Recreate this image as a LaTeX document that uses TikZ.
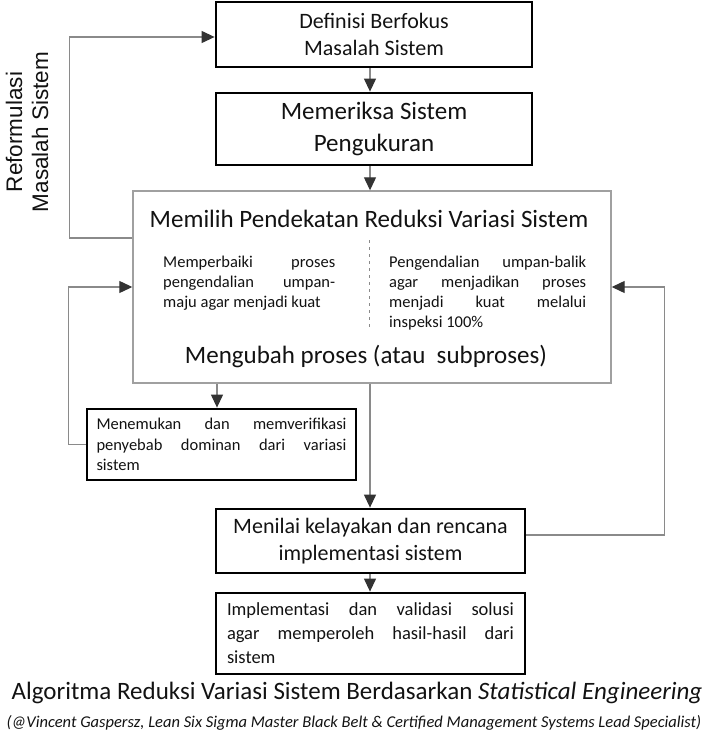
\documentclass[tikz,border=0pt]{standalone}
\usepackage{fontspec}
\setmainfont{Carlito}
\newfontfamily\sidefont{Liberation Sans}
\usetikzlibrary{positioning, arrows.meta}
\definecolor{linegray}{HTML}{8A8A8A}
\definecolor{tipgray}{HTML}{333333}
\definecolor{boxgray}{HTML}{A0A0A0}
\definecolor{inkblack}{HTML}{121212}
\hbadness=10000

\begin{document}
\begin{tikzpicture}[x=1pt, y=-1pt,
every node/.style = {text=inkblack, inner sep=0pt},
       tbox/.style = {rectangle, draw=black, line width=2.8pt, align=center},
       jbox/.style = {rectangle, draw=black, line width=2.8pt, align=justify},
     bigbox/.style = {rectangle, draw=boxgray, line width=1.4pt,
                      minimum width=478pt, minimum height=192pt},
       para/.style = {align=justify, font=\fontsize{16.5}{20}\selectfont},
       conn/.style = {draw=linegray, line width=1.2pt,
                      -{Triangle[length=13pt, width=12pt, color=tipgray]}}
                        ]
\useasboundingbox (0,0) rectangle (708,733);
\coordinate (axis) at (370,0);
\coordinate (temuAx) at (217,0);
% main column
\node (defn) [tbox, minimum width=316pt, minimum height=65pt,
              font=\fontsize{22}{27}\selectfont] at (374,34.5)
              {Definisi Berfokus\\Masalah Sistem};
\node (meas) [tbox, minimum width=316pt, minimum height=72pt,
              font=\fontsize{25}{32}\selectfont] at (374,129)
              {Memeriksa Sistem\\Pengukuran};
\node (pilih) [bigbox] at (372,287) {};
\node (pilihT) [anchor=base, font=\fontsize{25}{30}\selectfont] at (369,227)
              {Memilih Pendekatan Reduksi Variasi Sistem};
\node (maju) [para, text width=172pt, anchor=base west] at (163,267)
              {Memperbaiki proses\linebreak pengendalian umpan-\linebreak maju agar menjadi kuat};
\node (balik) [para, text width=197pt, anchor=base west] at (389,267)
              {Pengendalian umpan-balik\linebreak agar menjadikan proses\linebreak menjadi kuat melalui\linebreak inspeksi 100\%};
\draw[draw=linegray, line width=0.8pt, dash pattern=on 3pt off 4pt] (369,240) -- (369,327);
\node (ubah) [anchor=base, font=\fontsize{25}{30}\selectfont] at (366,363)
              {Mengubah proses (atau\ \ subproses)};
\node (temu) [jbox, minimum width=269pt, minimum height=71pt, text width=250pt,
              font=\fontsize{16.5}{20.5}\selectfont] at (221.5,444.5)
              {Menemukan dan memverifikasi\linebreak penyebab dominan dari variasi\linebreak sistem};
\node (nilai) [tbox, minimum width=309pt, minimum height=64pt,
              font=\fontsize{22}{27}\selectfont] at (370.5,541)
              {Menilai kelayakan dan rencana\\implementasi sistem};
\node (impl) [jbox, minimum width=309pt, minimum height=81pt, text width=287pt,
              font=\fontsize{18.5}{24}\selectfont] at (370.5,633.5)
              {Implementasi dan validasi solusi\linebreak agar memperoleh hasil-hasil dari\linebreak sistem};
% side label and caption
\node (reform) [rotate=90, align=center, font=\sidefont\fontsize{22.5}{26}\selectfont] at (27,132)
              {Reformulasi\\Masalah Sistem};
\node (judul) [anchor=base, font=\fontsize{25}{30}\selectfont] at (357,699)
              {Algoritma Reduksi Variasi Sistem Berdasarkan \textit{Statistical Engineering}};
\node (sumber) [anchor=base, font=\itshape\fontsize{16.5}{20}\selectfont] at (354,727)
              {(@Vincent Gaspersz, Lean Six Sigma Master Black Belt \& Certified Management Systems Lead Specialist)};
% connectors
\draw[conn] (defn.south -| axis) -- (meas.north -| axis);
\draw[conn] (meas.south -| axis) -- (pilih.north -| axis);
\draw[conn] (pilih.south -| temuAx) -- (temu.north -| temuAx);
\draw[conn] (pilih.south -| axis) -- (nilai.north -| axis);
\draw[conn] (nilai.south -| axis) -- (impl.north -| axis);
\draw[conn] ([yshift=49pt]pilih.west) -- ++(-63pt,0) |- ([yshift=-2.5pt]defn.west);
\draw[conn] (temu.west) -- ++(-17pt,0) |- (pilih.west);
\draw[conn] ([yshift=6pt]nilai.east) -- ++(138pt,0) |- (pilih.east);
\end{tikzpicture}
\end{document}
